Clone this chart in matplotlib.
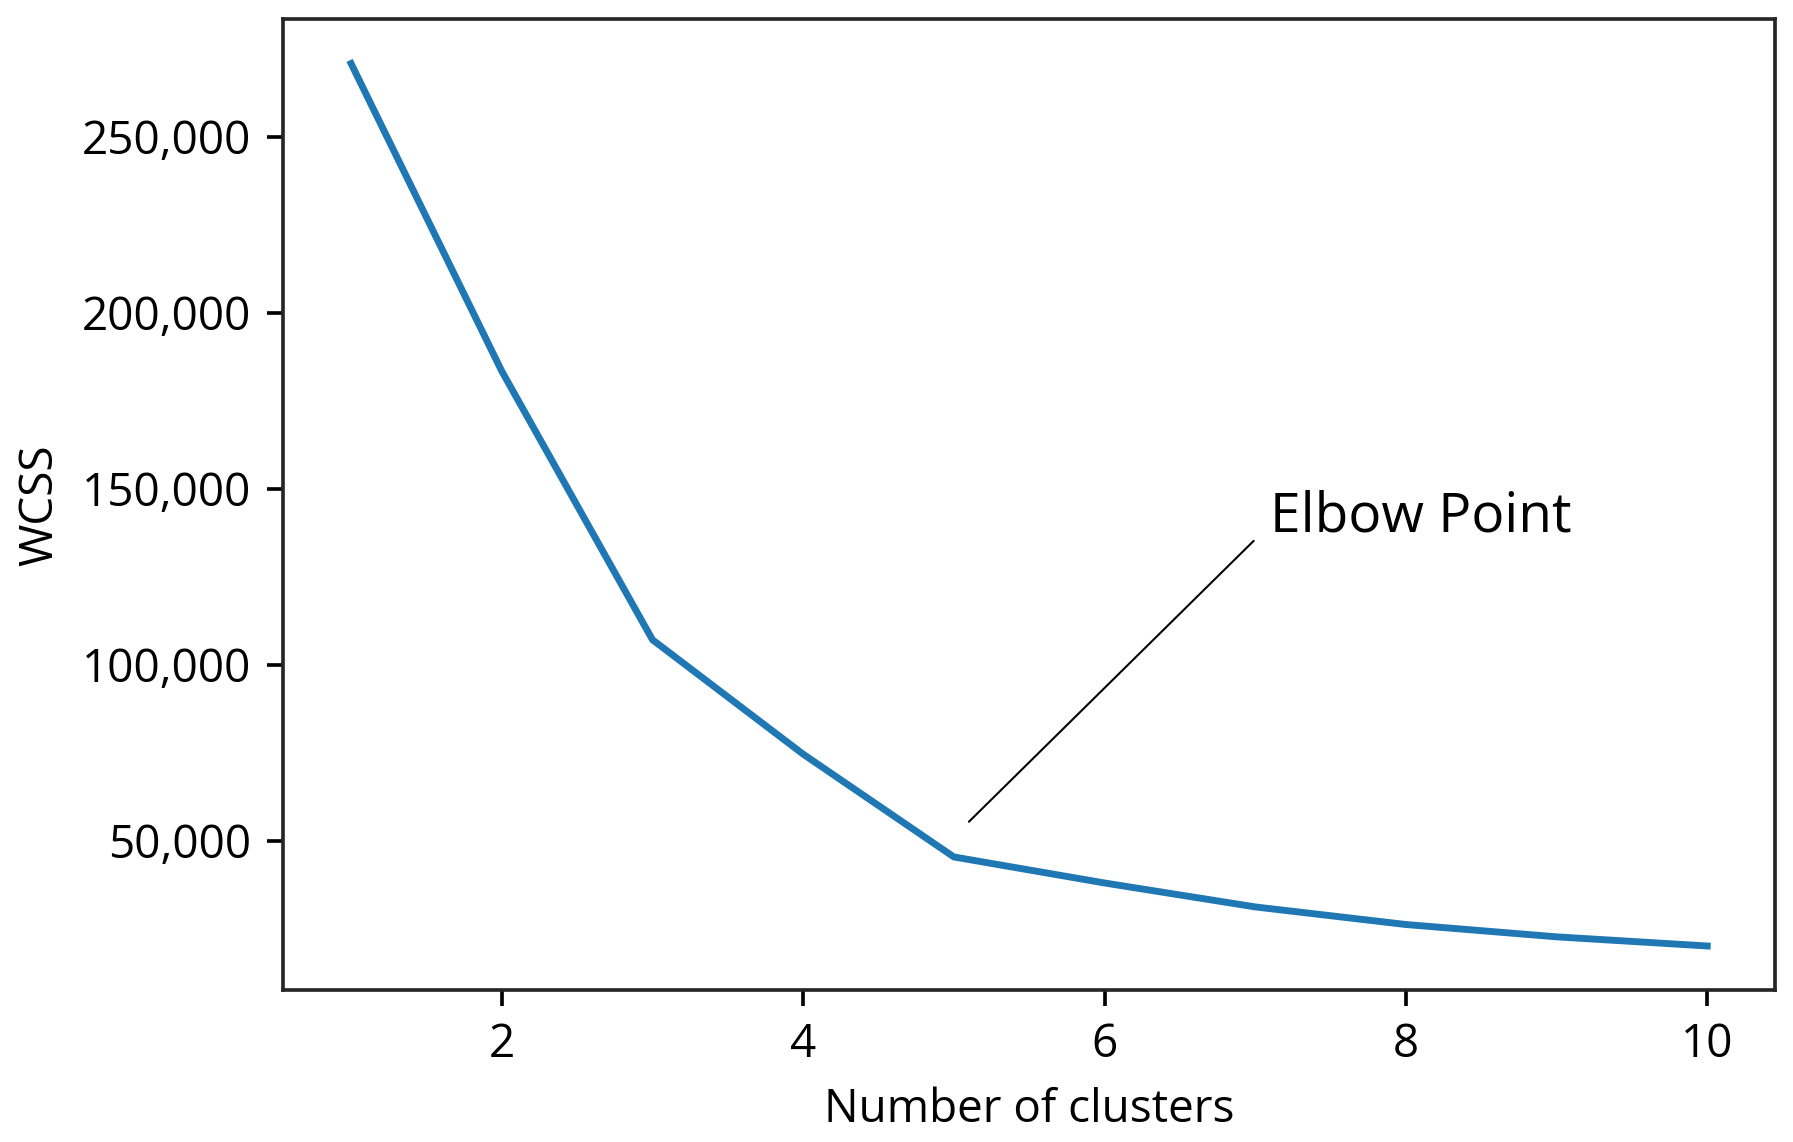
import matplotlib

matplotlib.use("Agg")
import matplotlib.pyplot as plt
from matplotlib.ticker import StrMethodFormatter

# elbow curve
clusters = [1, 2, 3, 4, 5, 6, 7, 8, 9, 10]
wcss = [270800, 183400, 107100, 74600, 45400, 38000, 31200, 26200, 22700, 20100]

elbow_label = "Elbow Point"
elbow_tip = (5.1, 55400)
elbow_tail = (6.99, 135200)
elbow_text_at = (7.1, 137800)

plt.rcParams["font.family"] = ["Open Sans", "DejaVu Sans"]

DPI = 330
fig = plt.figure(figsize=(1793 / DPI, 1142 / DPI), dpi=DPI)
ax = fig.add_subplot(111)
fig.subplots_adjust(left=0.158, right=0.990, bottom=0.133, top=0.983)

ax.plot(clusters, wcss, color="#1f77b4", linewidth=1.5)

ax.annotate(
    "",
    xy=elbow_tip,
    xytext=elbow_tail,
    arrowprops=dict(arrowstyle="-", color="black", lw=0.45, shrinkA=0, shrinkB=0),
)
ax.text(elbow_text_at[0], elbow_text_at[1], elbow_label, fontsize=12,
        ha="left", va="baseline")

ax.set_xlabel("Number of clusters")
ax.set_ylabel("WCSS")
ax.yaxis.set_major_formatter(StrMethodFormatter("{x:,.0f}"))
for side in ax.spines.values():
    side.set_color("#262626")

fig.savefig("out.png", dpi=DPI, facecolor="white")
